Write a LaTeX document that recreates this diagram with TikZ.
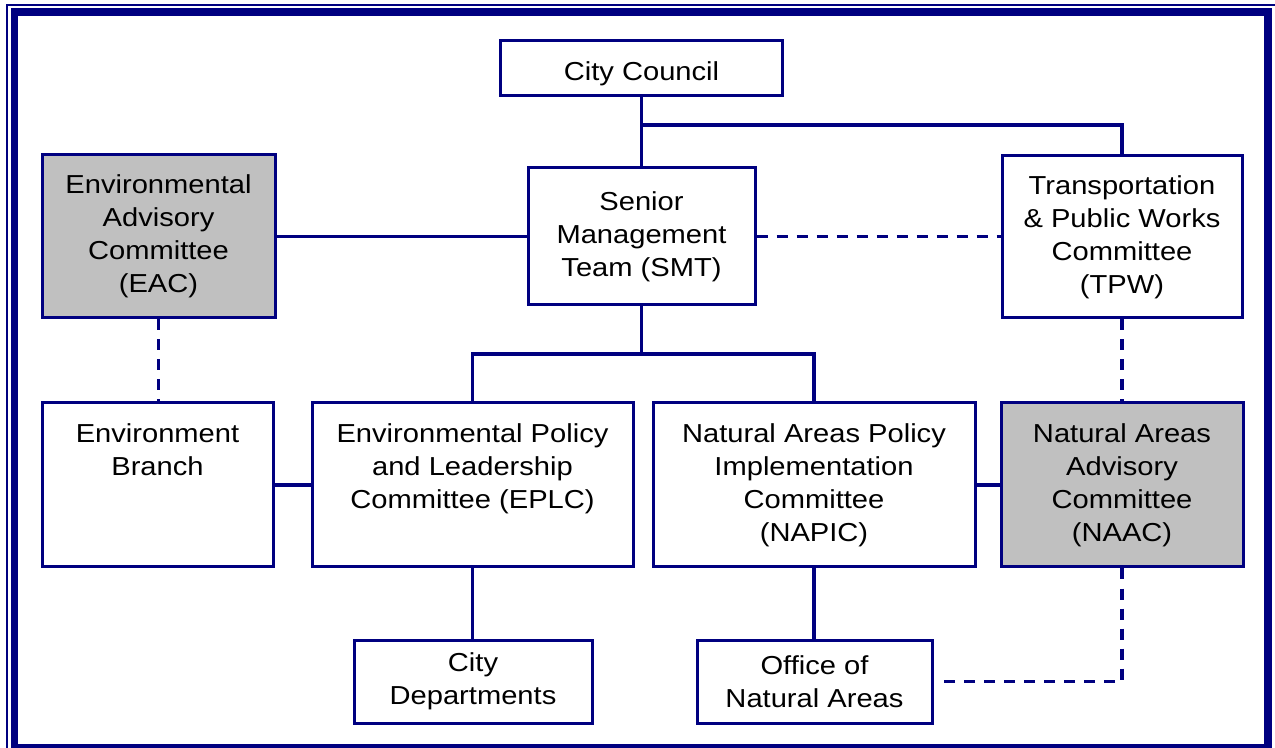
\documentclass[tikz,border=0pt]{standalone}
\usepackage{fontspec}
\setmainfont{Liberation Sans}[FakeStretch=1.12]
\definecolor{navy}{RGB}{0,0,128}
\definecolor{panelgrey}{RGB}{192,192,192}
\newcommand{\toptext}[2]{\parbox[c][82pt][t]{#1}{\centering\vspace*{8pt}\strut#2}}

\begin{document}
\begin{tikzpicture}[x=0.5pt,y=-0.5pt,
    box/.style={draw=navy,line width=1.5pt,fill=white,align=center,
      font=\fontsize{13}{16.5}\selectfont},
    topbox/.style={box,inner sep=0pt,minimum height=82pt},
    shaded/.style={fill=panelgrey},
    link/.style={navy,line width=1.6pt},
    dashlink/.style={link,dash pattern=on 5.5pt off 4.5pt}]
  \useasboundingbox (0,0) rectangle (1275,748);
  \clip (0,0) rectangle (1275,748);
  % frame
  \draw[navy,line width=1pt] (7,760) -- (7,5) -- (1285,5);
  \draw[navy,line width=3.75pt] (14.5,12) rectangle (1268,748);

  % top rows
  \node[box,minimum width=141pt,minimum height=27.5pt,text height=15.5pt,text depth=2.8pt]
    (council) at (641.5,68) {City Council};
  \node[box,minimum width=113.5pt,minimum height=68.5pt] (smt) at (641.5,236.5)
    {Senior\\Management\\Team (SMT)};
  \node[box,shaded,minimum width=116.5pt,minimum height=81.5pt] (eac) at (158.5,236.5)
    {Environmental\\Advisory\\Committee\\(EAC)};
  \node[box,minimum width=120pt,minimum height=81pt] (tpw) at (1122,237)
    {Transportation\\\& Public Works\\Committee\\(TPW)};

  % committees
  \node[topbox,minimum width=115.5pt] (branch) at (157.5,485)
    {\toptext{105pt}{Environment\\Branch}};
  \node[topbox,minimum width=160.5pt] (eplc) at (472.5,485)
    {\toptext{150pt}{Environmental Policy\\and Leadership\\Committee (EPLC)}};
  \node[topbox,minimum width=161pt] (napic) at (814,485)
    {\toptext{150pt}{Natural Areas Policy\\Implementation\\Committee\\(NAPIC)}};
  \node[topbox,shaded,minimum width=121pt] (naac) at (1122,485)
    {\toptext{110pt}{Natural Areas\\Advisory\\Committee\\(NAAC)}};

  % bottom row
  \node[box,minimum width=119pt,minimum height=41.5pt] (depts) at (473,681.5)
    {City\\Departments};
  \node[box,minimum width=117.5pt,minimum height=41.5pt] (ona) at (814.5,681.5)
    {Office of\\Natural Areas};

  \coordinate (councilj) at (641.5,125);
  \coordinate (smtj) at (641.5,354);

  \draw[link] (council.south) -- (smt.north);
  \draw[link] (councilj) -| (tpw.north);
  \draw[link] (eac.east) -- (smt.west);
  \draw[dashlink] (smt.east) -- (smt.east -| tpw.west);
  \draw[link] (smt.south) -- (smtj);
  \draw[link] (eplc.north) |- (smtj) -| (napic.north);
  \draw[dashlink] (eac.south) -- (eac.south |- branch.north);
  \draw[link] (branch.east) -- (eplc.west);
  \draw[link] (napic.east) -- (naac.west);
  \draw[dashlink] (tpw.south) -- (naac.north);
  \draw[link] (eplc.south) -- (eplc.south |- depts.north);
  \draw[link] (napic.south) -- (napic.south |- ona.north);
  \draw[dashlink,shorten >=5pt] (naac.south) |- (ona.east);
\end{tikzpicture}
\end{document}
